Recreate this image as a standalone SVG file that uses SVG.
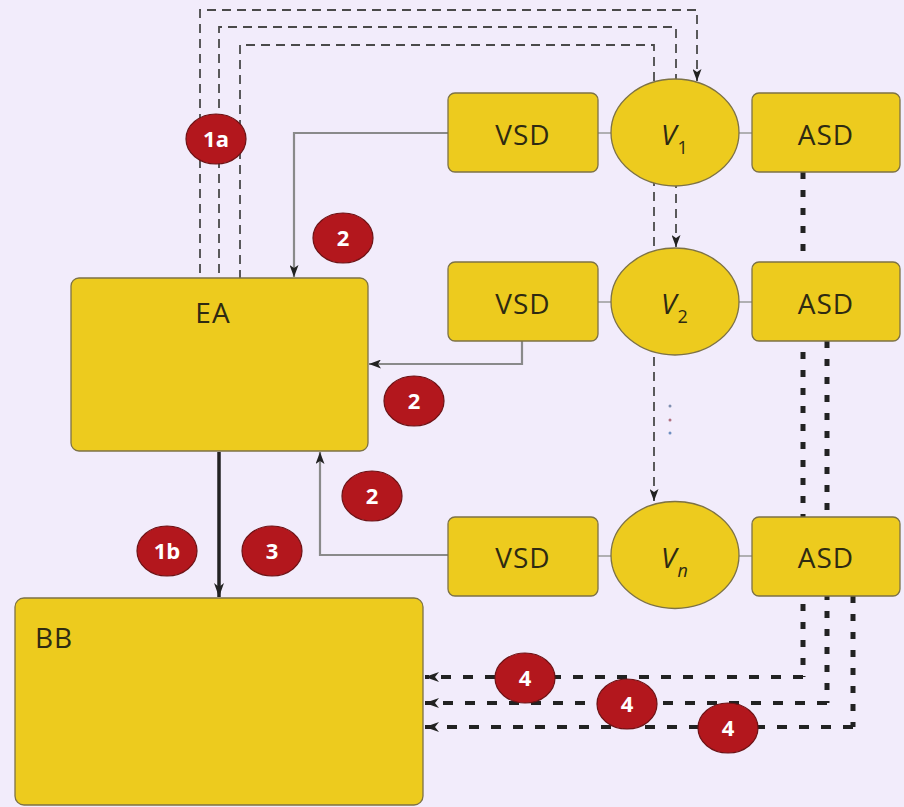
<svg xmlns="http://www.w3.org/2000/svg" width="904" height="807" viewBox="0 0 904 807">
<defs>
<style>
.bg{fill:#f2ecfb}
.node{fill:#edcb1e;stroke:#7d7245;stroke-width:1.3}
.lbl{font-family:"Open Sans","Noto Sans","DejaVu Sans",sans-serif;font-size:28px;letter-spacing:1px;fill:#2e2a12;text-anchor:middle}
.badge ellipse{fill:#b3171d;stroke:#6e1215;stroke-width:1.2}
.badge text{font-family:"Open Sans","Noto Sans","DejaVu Sans",sans-serif;font-weight:700;font-size:22px;fill:#ffffff;text-anchor:middle}
.ctl{fill:none;stroke:#4a4a4a;stroke-width:1.8;stroke-dasharray:9 6}
.sig{fill:none;stroke:#8a8a8a;stroke-width:2.2}
.link{fill:none;stroke:#9a9a9a;stroke-width:1.5}
.dotv{fill:none;stroke:#222;stroke-width:5;stroke-dasharray:7 11}
.dash{fill:none;stroke:#222;stroke-width:4;stroke-dasharray:10 12}
.main{fill:none;stroke:#222;stroke-width:3.5}
</style>
<marker id="ah" viewBox="0 0 14 10" refX="14" refY="5" markerWidth="14" markerHeight="10" orient="auto" markerUnits="userSpaceOnUse"><path d="M0,0 L14,5 L0,10 L4,5 z" fill="#222"/></marker>
<marker id="ahs" viewBox="0 0 12 9" refX="12" refY="4.5" markerWidth="12" markerHeight="9" orient="auto" markerUnits="userSpaceOnUse"><path d="M0,0 L12,4.5 L0,9 L3,4.5 z" fill="#222"/></marker>
</defs>
<rect class="bg" x="0" y="0" width="904" height="807"/>

<g id="connectors">
  <path class="ctl" d="M200,273 V10 H697 V81" marker-end="url(#ahs)"/>
  <path class="ctl" d="M219,273 V27 H676 V247" marker-end="url(#ahs)"/>
  <path class="ctl" d="M240,279 V45 H654 V501" marker-end="url(#ahs)"/>
  <path class="sig" d="M448,133 H294 V277" marker-end="url(#ahs)"/>
  <path class="sig" d="M522,341 V364 H369" marker-end="url(#ahs)"/>
  <path class="sig" d="M448,555 H320 V452" marker-end="url(#ahs)"/>
  <path class="main" d="M219,452 V597" marker-end="url(#ah)"/>
  <path class="link" d="M598,133 H611 M739,133 H752"/>
  <path class="link" d="M598,302 H611 M739,302 H752"/>
  <path class="link" d="M598,556 H611 M739,556 H752"/>
  <path class="dotv" d="M803,172 V677"/>
  <path class="dotv" d="M827,341 V703"/>
  <path class="dotv" d="M853,596 V727"/>
  <path class="dash" d="M803,677 H425" marker-end="url(#ah)"/>
  <path class="dash" d="M827,703 H425" marker-end="url(#ah)"/>
  <path class="dash" d="M853,727 H425" marker-end="url(#ah)"/>
</g>

<g id="EA">
  <rect class="node" x="71" y="278" width="297" height="173" rx="8"/>
  <text class="lbl" x="213" y="323">EA</text>
</g>
<g id="BB">
  <rect class="node" x="15" y="598" width="408" height="207" rx="9"/>
  <text class="lbl" x="35" y="648" style="text-anchor:start">BB</text>
</g>

<g id="VSD1">
  <rect class="node" x="448" y="93" width="150" height="79" rx="7"/>
  <text class="lbl" x="523" y="145">VSD</text>
</g>
<g id="V1">
  <ellipse class="node" cx="675" cy="132.5" rx="64" ry="53.5"/>
  <text class="lbl" x="661" y="145" style="text-anchor:start"><tspan font-style="italic">V</tspan><tspan font-size="18" dy="9">1</tspan></text>
</g>
<g id="ASD1">
  <rect class="node" x="752" y="93" width="148" height="79" rx="7"/>
  <text class="lbl" x="826" y="145">ASD</text>
</g>

<g id="VSD2">
  <rect class="node" x="448" y="262" width="150" height="79" rx="7"/>
  <text class="lbl" x="523" y="314">VSD</text>
</g>
<g id="V2">
  <ellipse class="node" cx="675" cy="301.5" rx="64" ry="53.5"/>
  <text class="lbl" x="661" y="314" style="text-anchor:start"><tspan font-style="italic">V</tspan><tspan font-size="18" dy="9">2</tspan></text>
</g>
<g id="ASD2">
  <rect class="node" x="752" y="262" width="148" height="79" rx="7"/>
  <text class="lbl" x="826" y="314">ASD</text>
</g>

<g id="ellipsis">
  <circle cx="670" cy="406" r="1.5" fill="#7f8fb0"/>
  <circle cx="670" cy="420" r="1.5" fill="#b07080"/>
  <circle cx="670" cy="433" r="1.5" fill="#6f8fc0"/>
</g>

<g id="VSDn">
  <rect class="node" x="448" y="517" width="150" height="79" rx="7"/>
  <text class="lbl" x="523" y="568">VSD</text>
</g>
<g id="Vn">
  <ellipse class="node" cx="675" cy="555" rx="64" ry="53.5"/>
  <text class="lbl" x="661" y="568" style="text-anchor:start"><tspan font-style="italic">V</tspan><tspan font-size="18" dy="9" font-style="italic">n</tspan></text>
</g>
<g id="ASDn">
  <rect class="node" x="752" y="517" width="148" height="79" rx="7"/>
  <text class="lbl" x="826" y="568">ASD</text>
</g>

<g id="badge-1a" class="badge"><ellipse cx="216" cy="139" rx="30" ry="25"/><text x="216" y="147">1a</text></g>
<g id="badge-2a" class="badge"><ellipse cx="343" cy="238" rx="30" ry="25"/><text x="343" y="246">2</text></g>
<g id="badge-2b" class="badge"><ellipse cx="414" cy="401" rx="30" ry="25"/><text x="414" y="409">2</text></g>
<g id="badge-2c" class="badge"><ellipse cx="372" cy="496" rx="30" ry="25"/><text x="372" y="504">2</text></g>
<g id="badge-1b" class="badge"><ellipse cx="167" cy="551" rx="30" ry="25"/><text x="167" y="559">1b</text></g>
<g id="badge-3" class="badge"><ellipse cx="272" cy="551" rx="30" ry="25"/><text x="272" y="559">3</text></g>
<g id="badge-4a" class="badge"><ellipse cx="525" cy="678" rx="30" ry="25"/><text x="525" y="686">4</text></g>
<g id="badge-4b" class="badge"><ellipse cx="627" cy="704" rx="30" ry="25"/><text x="627" y="712">4</text></g>
<g id="badge-4c" class="badge"><ellipse cx="728" cy="728" rx="30" ry="25"/><text x="728" y="736">4</text></g>
</svg>
